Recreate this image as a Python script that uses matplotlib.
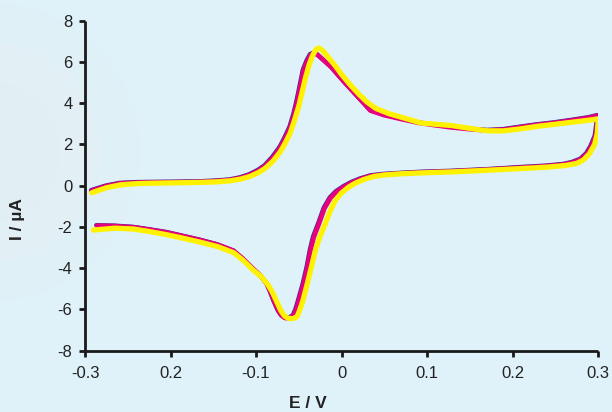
import numpy as np
import matplotlib
matplotlib.use("Agg")
import matplotlib.pyplot as plt
from matplotlib.patches import Circle
import matplotlib.transforms as mtransforms

# magenta scan: forward (oxidation) then reverse branch
e_mag = [-0.292, -0.275, -0.259, -0.240, -0.224, -0.195, -0.165, -0.145, -0.130, -0.118,
         -0.107, -0.097, -0.089, -0.080, -0.0715, -0.066, -0.060, -0.0555, -0.0516, -0.048,
         -0.0445, -0.040, -0.036, -0.0325, -0.028, -0.020, -0.012, -0.005, 0.005, 0.015,
         0.025, 0.034, 0.050, 0.069, 0.090, 0.110, 0.128, 0.150, 0.171, 0.190,
         0.210, 0.229, 0.250, 0.270, 0.290, 0.300,
         0.299, 0.297, 0.292, 0.287, 0.280, 0.270, 0.260, 0.240, 0.210, 0.171,
         0.130, 0.093, 0.070, 0.050, 0.035, 0.022, 0.012, 0.003, -0.006, -0.013,
         -0.020, -0.026, -0.0325, -0.036, -0.040, -0.045, -0.050, -0.053, -0.056, -0.061,
         -0.0657, -0.070, -0.074, -0.079, -0.083, -0.087, -0.095, -0.103, -0.115, -0.126,
         -0.145, -0.165, -0.185, -0.204, -0.225, -0.243, -0.265, -0.286]
i_mag = [-0.24, -0.02, 0.11, 0.15, 0.16, 0.17, 0.19, 0.23, 0.28, 0.38,
         0.53, 0.74, 0.97, 1.38, 1.86, 2.30, 2.83, 3.45, 4.13, 4.85,
         5.58, 6.05, 6.35, 6.42, 6.35, 6.05, 5.75, 5.42, 4.95, 4.50,
         4.05, 3.64, 3.42, 3.24, 3.05, 2.93, 2.83, 2.74, 2.68, 2.72,
         2.84, 2.95, 3.05, 3.17, 3.30, 3.40,
         3.00, 2.40, 1.90, 1.55, 1.28, 1.12, 1.03, 0.95, 0.88, 0.78,
         0.70, 0.65, 0.60, 0.55, 0.48, 0.32, 0.15, -0.05, -0.30, -0.60,
         -1.10, -1.80, -2.50, -3.10, -3.97, -4.85, -5.58, -6.00, -6.30, -6.42,
         -6.42, -6.30, -6.05, -5.58, -5.15, -4.77, -4.35, -4.04, -3.55, -3.16,
         -2.86, -2.64, -2.45, -2.27, -2.13, -2.02, -1.96, -1.94]

# yellow scan
e_yel = [-0.292, -0.275, -0.259, -0.240, -0.224, -0.195, -0.165, -0.145, -0.130, -0.118,
         -0.107, -0.097, -0.089, -0.080, -0.0715, -0.066, -0.060, -0.0555, -0.050, -0.046,
         -0.042, -0.038, -0.034, -0.030, -0.0266, -0.022, -0.015, -0.007, 0.000, 0.010,
         0.020, 0.030, 0.040, 0.055, 0.070, 0.093, 0.110, 0.128, 0.150, 0.171,
         0.190, 0.210, 0.229, 0.250, 0.270, 0.290, 0.300,
         0.300, 0.299, 0.296, 0.290, 0.283, 0.275, 0.262, 0.240, 0.210, 0.171,
         0.130, 0.093, 0.070, 0.050, 0.038, 0.026, 0.016, 0.008, 0.000, -0.007,
         -0.013, -0.019, -0.025, -0.030, -0.035, -0.040, -0.045, -0.049, -0.052, -0.057,
         -0.063, -0.067, -0.071, -0.076, -0.081, -0.086, -0.094, -0.103, -0.115, -0.126,
         -0.145, -0.165, -0.185, -0.204, -0.225, -0.243, -0.265, -0.290]
i_yel = [-0.34, -0.10, 0.04, 0.10, 0.12, 0.14, 0.16, 0.19, 0.24, 0.32,
         0.45, 0.64, 0.85, 1.20, 1.65, 2.05, 2.55, 3.10, 3.85, 4.55,
         5.25, 5.85, 6.30, 6.60, 6.68, 6.55, 6.20, 5.80, 5.40, 4.90,
         4.45, 4.05, 3.75, 3.50, 3.32, 3.04, 2.98, 2.92, 2.78, 2.66,
         2.66, 2.76, 2.88, 2.98, 3.08, 3.18, 3.24,
         3.00, 2.50, 2.00, 1.55, 1.25, 1.08, 0.98, 0.90, 0.83, 0.75,
         0.67, 0.62, 0.58, 0.52, 0.45, 0.30, 0.12, -0.08, -0.35, -0.70,
         -1.20, -1.85, -2.45, -3.05, -3.90, -4.75, -5.55, -6.05, -6.35, -6.45,
         -6.42, -6.30, -6.05, -5.60, -5.15, -4.80, -4.40, -4.10, -3.62, -3.25,
         -2.95, -2.74, -2.55, -2.38, -2.22, -2.10, -2.06, -2.15]

x_ticks = [-0.3, -0.2, -0.1, 0.0, 0.1, 0.2, 0.3]
x_labels = ["-0.3", "0.2", "-0.1", "0", "0.1", "0.2", "0.3"]
y_ticks = [-8, -6, -4, -2, 0, 2, 4, 6, 8]
y_labels = ["-8", "-6", "-4", "-2", "0", "2", "4", "6", "8"]

plt.rcParams["font.family"] = ["Liberation Sans", "DejaVu Sans"]

fig = plt.figure(figsize=(6.12, 4.12), dpi=100)
fig.patch.set_facecolor("#dff2fa")

# faint watermark shapes in the background
for r, c in [(150, "#e0f0f7"), (110, "#e2eff5"), (70, "#e1eef4")]:
    fig.patches.append(Circle((-10, 260), r, transform=None, facecolor=c,
                              edgecolor="none", zorder=-5))

ax = fig.add_axes([85 / 612, 1 - 350.7 / 412, 513 / 612, 330 / 412])
ax.patch.set_alpha(0)

# thin navy trace sitting just beneath the magenta one
shift = mtransforms.offset_copy(ax.transData, fig=fig, x=-0.8, y=0.6, units="dots")
ax.plot(e_mag, i_mag, color="#3a2f8c", lw=3.0, transform=shift, solid_capstyle="round")
ax.plot(e_mag, i_mag, color="#e6007e", lw=3.4, solid_capstyle="round")
ax.plot(e_yel, i_yel, color="#fff200", lw=3.8, solid_capstyle="round")

ax.set_xlim(-0.3, 0.3)
ax.set_ylim(-8, 8)
ax.set_xticks(x_ticks)
ax.set_xticklabels(x_labels)
ax.set_yticks(y_ticks)
ax.set_yticklabels(y_labels)

for s in ["top", "right"]:
    ax.spines[s].set_visible(False)
for s in ["left", "bottom"]:
    ax.spines[s].set_linewidth(2)
    ax.spines[s].set_color("#1a1a1a")
    ax.spines[s].set_capstyle("butt")

ax.tick_params(direction="out", length=4, width=2, color="#1a1a1a",
               labelsize=12, labelcolor="#222222", pad=5)
ax.tick_params(axis="x", pad=7)

ax.set_xlabel("E / V", fontsize=12.5, fontweight="bold", color="#222222")
ax.xaxis.set_label_coords(0.435, -0.137)
ax.set_ylabel("I / µA", fontsize=12.5, fontweight="bold", color="#222222")
ax.yaxis.set_label_coords(-0.117, 0.40)

fig.savefig("out.png", dpi=100, facecolor=fig.get_facecolor())
